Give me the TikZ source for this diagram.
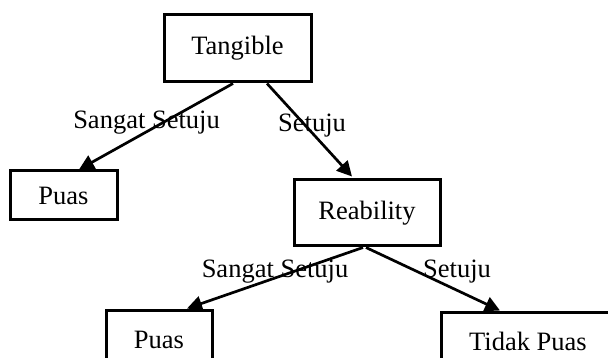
\documentclass[tikz,border=0pt]{standalone}
\usepackage{fontspec}
\setmainfont{Liberation Serif}
\usetikzlibrary{arrows.meta}

\begin{document}
\begin{tikzpicture}[x=1pt,y=-1pt,
  every node/.style={font=\fontsize{26.5}{30}\selectfont},
  box/.style={draw,line width=3pt,inner sep=0pt},
  arr/.style={line width=2.7pt,-{Triangle[length=15pt,width=15pt]}}]
\useasboundingbox (0,0) rectangle (608,358);
\clip (0,0) rectangle (608,358);
%boxes
\node[box,minimum width=147pt,minimum height=67pt] (tang) at (237.5,48.5) {Tangible};
\node[box,minimum width=107pt,minimum height=49pt] (puasA) at (63.5,195.5) {Puas};
\node[box,minimum width=146pt,minimum height=66pt] (reab) at (367,213) {Reability};
\node[box,minimum width=106pt,minimum height=60pt] (puasB) at (159,340) {Puas};
\node[box,minimum width=174pt,minimum height=58pt] (tidak) at (528,341) {Tidak Puas};
%arrows
\draw[arr] ([xshift=-4.5pt]tang.south) -- ([xshift=15.5pt]puasA.north);
\draw[arr] ([xshift=29.5pt]tang.south) -- ([xshift=-15pt,yshift=2pt]reab.north);
\draw[arr] ([xshift=-4pt]reab.south) -- ([xshift=28pt]puasB.north);
\draw[arr] ([xshift=-1pt]reab.south) -- ([xshift=-28pt]tidak.north);
%labels
\node (lA) at (146.5,123) {Sangat Setuju};
\node (lB) at (312,126) {Setuju};
\node (lC) at (275,272) {Sangat Setuju};
\node (lD) at (457,272) {Setuju};
\end{tikzpicture}
\end{document}
